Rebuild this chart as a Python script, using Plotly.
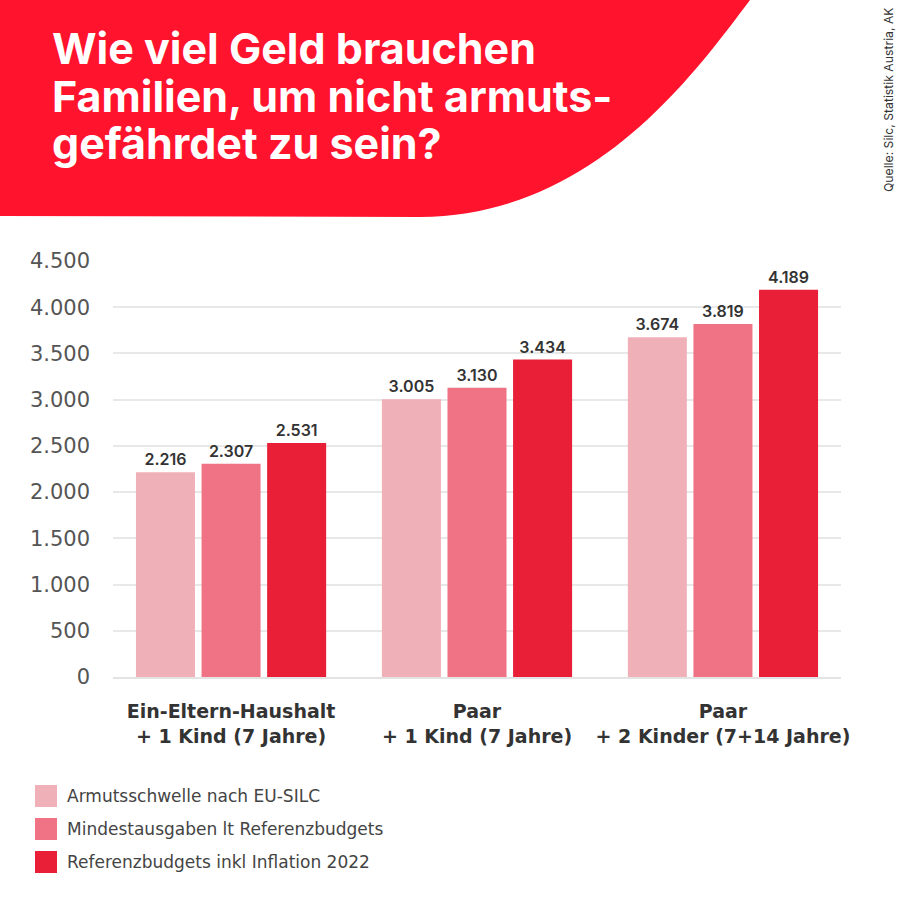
import plotly.graph_objects as go

categories = ["Ein-Eltern-Haushalt<br>+ 1 Kind (7 Jahre)", "Paar<br>+ 1 Kind (7 Jahre)", "Paar<br>+ 2 Kinder (7+14 Jahre)"]
s1_name = "Armutsschwelle nach EU-SILC"
s2_name = "Mindestausgaben lt Referenzbudgets"
s3_name = "Referenzbudgets inkl Inflation 2022"
s1 = [2216, 3005, 3674]
s2 = [2307, 3130, 3819]
s3 = [2531, 3434, 4189]
tickvals = [0, 500, 1000, 1500, 2000, 2500, 3000, 3500, 4000, 4500]
ticktext = ["0", "500", "1.000", "1.500", "2.000", "2.500", "3.000", "3.500", "4.000", "4.500"]
title_lines = ["Wie viel Geld brauchen", "Familien, um nicht armuts-", "gefährdet zu sein?"]
source = "Quelle: Silc, Statistik Austria, AK"
C1, C2, C3 = "#F0B0B8", "#F07385", "#E81F37"
HEAD = "#FF132D"

L, R, T, B = 113, 841, 261, 677


def px(x):
    return (x - L) / (R - L)


def py(y):
    return (B - y) / (B - T)


def fmt(v):
    return f"{v:,}".replace(",", ".")


fig = go.Figure()
series = [(s1_name, s1, C1), (s2_name, s2, C2), (s3_name, s3, C3)]
for name, vals, col in series:
    fig.add_trace(go.Bar(x=[0, 1, 2], y=vals, name=name, marker=dict(color=col, line=dict(width=0)),
                         text=[fmt(v) for v in vals], textposition="outside", cliponaxis=False,
                         textfont=dict(size=16, color="#333333", family="Inter", weight=600)))

header = (f"M {px(0)} {py(0)} L {px(750)} {py(0)} "
          f"C {px(690)} {py(80)} {px(590)} {py(216)} {px(420)} {py(217)} "
          f"L {px(0)} {py(216)} Z")
shapes = [dict(type="path", xref="paper", yref="paper", layer="below", line=dict(width=0),
               fillcolor=HEAD, path=header)]
annotations = []
for (name, _, col), yc in zip(series, [796, 829, 862]):
    shapes.append(dict(type="rect", xref="paper", yref="paper", layer="above", line=dict(width=0), fillcolor=col,
                       x0=px(35), x1=px(57), y0=py(yc + 11), y1=py(yc - 11)))
    annotations.append(dict(xref="paper", yref="paper", x=px(65), y=py(yc), xanchor="left", yanchor="middle",
                            showarrow=False, text=name,
                            font=dict(size=17, color="#444444", family="DejaVu Sans")))
for line, yc in zip(title_lines, [48, 96, 143]):
    annotations.append(dict(xref="paper", yref="paper", x=px(50), y=py(yc), xanchor="left", yanchor="middle",
                            showarrow=False, text=line,
                            font=dict(size=43, color="white", family="Inter", weight=700)))
annotations.append(dict(xref="paper", yref="paper", x=px(889), y=py(100), xanchor="center", yanchor="middle",
                        showarrow=False, textangle=-90, text=source,
                        font=dict(size=12.2, color="#333333", family="Inter")))

fig.update_layout(
    width=900, height=900, autosize=False,
    margin=dict(l=L, r=900 - R, t=T, b=900 - B),
    paper_bgcolor="white", plot_bgcolor="white",
    barmode="group", bargap=0.2, bargroupgap=0.1,
    font=dict(family="Inter", color="#333333"),
    xaxis=dict(range=[-0.48, 2.48], tickvals=[0, 1, 2], ticktext=categories,
               tickfont=dict(size=19, color="#333333", family="DejaVu Sans", weight=700),
               ticks="", showline=True, linecolor="#E3E3E3", linewidth=2, ticklabelstandoff=16),
    yaxis=dict(range=[0, 4500], tickvals=tickvals, ticktext=ticktext, gridcolor="#E8E8E8", gridwidth=2,
               zeroline=False, ticks="", tickfont=dict(size=21, color="#555555", family="DejaVu Sans"),
               ticklabelstandoff=22, automargin=False),
    showlegend=False,
    shapes=shapes,
    annotations=annotations,
)
fig.write_html("out.html", config={"displayModeBar": False},
               post_script="document.body.style.margin='0';document.documentElement.style.overflow='hidden';")
